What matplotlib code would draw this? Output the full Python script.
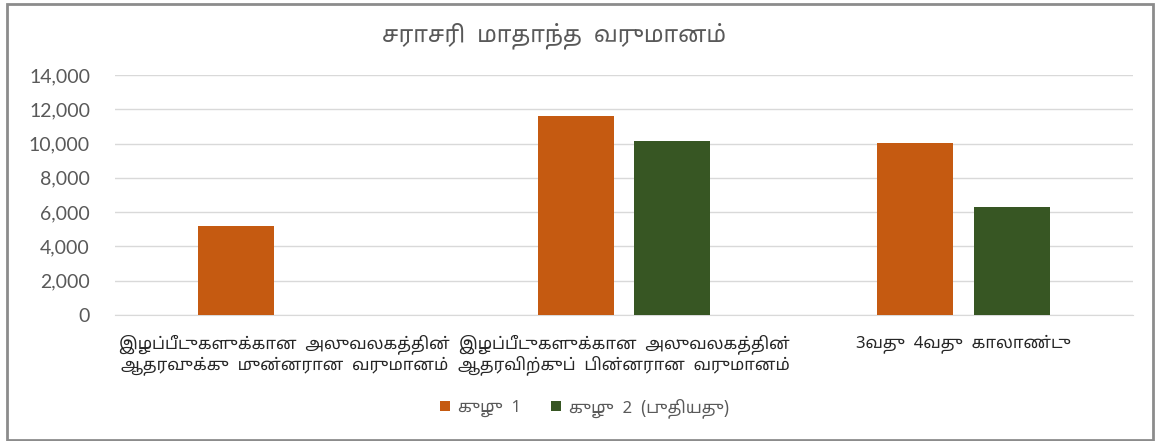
import numpy as np
import matplotlib
matplotlib.use('Agg')
import matplotlib.pyplot as plt
from matplotlib import font_manager
from matplotlib.patches import Rectangle


categories = ['இழப்பீடுகளுக்கான அலுவலகத்தின்\nஆதரவுக்கு முன்னரான வருமானம்',
              'இழப்பீடுகளுக்கான அலுவலகத்தின்\nஆதரவிற்குப் பின்னரான வருமானம்',
              '3வது 4வது காலாண்டு\n']
group1 = [5200, 11600, 10050]
group2 = [0, 10150, 6300]
series_names = ['குழு 1', 'குழு 2 (புதியது)']
title = 'சராசரி மாதாந்த வருமானம்'

ORANGE = '#C55A11'
GREEN = '#375623'


def pick_family(candidates):
    names = {f.name for f in font_manager.fontManager.ttflist}
    for c in candidates:
        if c in names:
            return c
    return 'DejaVu Sans'


tamil_font = pick_family(['Noto Sans Tamil', 'Noto Sans Tamil UI', 'Catamaran', 'Lohit Tamil'])
num_font = pick_family(['Lato', 'Open Sans', 'DejaVu Sans'])


def wide(s):
    # word gaps in the original are wide
    return s.replace(' ', '  ')


def plot_chart():
    fig = plt.figure(figsize=(11.58, 4.41), dpi=100)
    ax = fig.add_axes([0.0993, 0.2857, 0.8791, 0.5442])

    x = np.arange(len(categories))
    w = 0.224
    ax.bar(x - 0.142, group1, w, color=ORANGE, label=wide(series_names[0]), zorder=3)
    ax.bar(x + 0.142, group2, w, color=GREEN, label=wide(series_names[1]), zorder=3)

    ax.set_xlim(-0.5, len(categories) - 0.5)
    ax.set_ylim(0, 14000)
    ax.set_yticks(np.arange(0, 14001, 2000))
    ax.set_yticklabels(['{:,}'.format(v) for v in range(0, 14001, 2000)],
                       fontsize=14, color='#595959', family=[num_font, 'DejaVu Sans'])
    ax.yaxis.grid(True, color='#D9D9D9', linewidth=1, zorder=0)
    ax.tick_params(axis='both', length=0)
    ax.tick_params(axis='y', pad=18)

    ax.set_xticks(x)
    ax.set_xticklabels([wide(c) for c in categories], fontsize=12, fontweight='bold',
                       color='#262626', family=[tamil_font, 'DejaVu Sans'], linespacing=1.1)
    ax.tick_params(axis='x', pad=14)

    for s in ['top', 'right', 'left']:
        ax.spines[s].set_visible(False)
    ax.spines['bottom'].set_color('#D9D9D9')

    fig.text(0.478, 0.918, wide(title), ha='center', va='center', fontsize=16.5,
             color='#595959', family=[tamil_font, 'DejaVu Sans'])

    fig.legend(loc='center', bbox_to_anchor=(0.505, 0.075), ncol=2, frameon=False,
               handlelength=0.6, handleheight=0.6, handletextpad=0.5, columnspacing=1.8,
               prop={'family': [tamil_font, 'DejaVu Sans'], 'size': 12},
               labelcolor='#595959')

    fig.patches.append(Rectangle((0.006, 0.003), 0.99, 0.987, transform=fig.transFigure,
                                 fill=False, edgecolor='#8C8C8C', linewidth=2))

    fig.savefig('out.png', dpi=100)


if __name__ == '__main__':
    plot_chart()
